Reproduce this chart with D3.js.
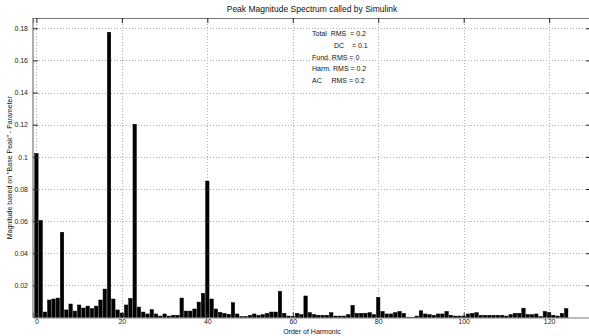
<!DOCTYPE html>
<html>
<head>
<meta charset="utf-8">
<script src="https://cdn.jsdelivr.net/npm/d3@7"></script>
<style>
  body { margin: 0; background: #fff; }
  svg { display: block; font-family: "Liberation Sans", Arial, sans-serif; }
</style>
</head>
<body>
<svg width="589" height="336"></svg>
<script>
// harmonic order 0..124, peak magnitude
const magnitudes = [
  0.102, 0.0604, 0.0034, 0.0109, 0.0115, 0.0121, 0.053, 0.0047, 0.0084, 0.004,
  0.0078, 0.0059, 0.0071, 0.0055, 0.0071, 0.0109, 0.0177, 0.1775, 0.0115, 0.0047,
  0.0028, 0.0078, 0.0119, 0.1203, 0.0065, 0.0034, 0.0022, 0.0049, 0.0022, 0.0009,
  0.0022, 0.0009, 0.0014, 0.0014, 0.0121, 0.004, 0.004, 0.0053, 0.0096, 0.015,
  0.0849, 0.0115, 0.0053, 0.0032, 0.0026, 0.002, 0.0092, 0.0022, 0.0006, 0.0006,
  0.0014, 0.0022, 0.0014, 0.0018, 0.0026, 0.0034, 0.0034, 0.0163, 0.0026, 0.0009,
  0.0006, 0.0026, 0.0018, 0.0134, 0.003, 0.0018, 0.0014, 0.0014, 0.0014, 0.003,
  0.0009, 0.0009, 0.0009, 0.0018, 0.0076, 0.0026, 0.0026, 0.0026, 0.003, 0.0018,
  0.0125, 0.0038, 0.0022, 0.0022, 0.003, 0.0038, 0.0026, 0.0002, 0.0002, 0.0009,
  0.0042, 0.0022, 0.0018, 0.0014, 0.0022, 0.0022, 0.0038, 0.0014, 0.0009, 0.0009,
  0.0009, 0.0022, 0.0026, 0.003, 0.0014, 0.0014, 0.0014, 0.0014, 0.0014, 0.0014,
  0.0009, 0.0018, 0.0026, 0.0026, 0.0058, 0.0018, 0.0018, 0.0022, 0.0006, 0.0038,
  0.003, 0.0014, 0.0009, 0.0026, 0.0055
];
const xTicks = [0, 20, 40, 60, 80, 100, 120];
const yTicks = [0.02, 0.04, 0.06, 0.08, 0.1, 0.12, 0.14, 0.16, 0.18];
const yTickLabels = ['0.02', '0.04', '0.06', '0.08', '0.1', '0.12', '0.14', '0.16', '0.18'];
const rmsLines = [
  { label: 'Total  RMS  = 0.2', indent: 0 },
  { label: 'DC    = 0.1', indent: 1 },
  { label: 'Fund. RMS = 0', indent: 0 },
  { label: 'Harm. RMS = 0.2', indent: 0 },
  { label: 'AC     RMS = 0.2', indent: 0 }
];

const svg = d3.select('svg');
const plotLeft = 33, plotRight = 591, plotTop = 18, plotBottom = 317.5;

const x = d3.scaleLinear().domain([-0.8, 129.8]).range([plotLeft, plotRight]);
const y = d3.scaleLinear().domain([0, 0.1864]).range([plotBottom, plotTop]);

// grid
const grid = svg.append('g')
  .attr('stroke', '#b0b0b0')
  .attr('stroke-width', 1)
  .attr('stroke-dasharray', '1,2');
grid.selectAll('.gx').data(xTicks).enter().append('line')
  .attr('x1', d => Math.round(x(d)) + 0.5).attr('x2', d => Math.round(x(d)) + 0.5)
  .attr('y1', plotTop).attr('y2', plotBottom);
grid.selectAll('.gy').data(yTicks).enter().append('line')
  .attr('y1', d => Math.round(y(d)) + 0.5).attr('y2', d => Math.round(y(d)) + 0.5)
  .attr('x1', plotLeft).attr('x2', plotRight);

// bars
const barW = x(0.8) - x(0);
svg.append('g').selectAll('rect')
  .data(magnitudes)
  .enter()
  .append('rect')
  .attr('x', (d, i) => x(i) - barW / 2)
  .attr('y', d => y(d))
  .attr('width', barW)
  .attr('height', d => plotBottom - y(d))
  .attr('fill', '#000')
  .attr('stroke', '#000')
  .attr('stroke-width', 0.5);

// axes with inward ticks
const tickLen = 5;
const xAxis = d3.axisBottom(x).tickValues(xTicks).tickSize(-tickLen).tickPadding(2);
const yAxis = d3.axisLeft(y).tickValues(yTicks)
  .tickFormat((d, i) => yTickLabels[i]).tickSize(-tickLen).tickPadding(5);

const gx = svg.append('g').attr('transform', `translate(0,${plotBottom})`).call(xAxis);
const gy = svg.append('g').attr('transform', `translate(${plotLeft},0)`).call(yAxis);
const gxTop = svg.append('g').attr('transform', `translate(0,${plotTop})`)
  .call(d3.axisTop(x).tickValues(xTicks).tickSize(-tickLen).tickFormat(''));
const gyRight = svg.append('g').attr('transform', `translate(${plotRight},0)`)
  .call(d3.axisRight(y).tickValues(yTicks).tickSize(-tickLen).tickFormat(''));

[gx, gy, gxTop, gyRight].forEach(g => {
  g.select('.domain').attr('stroke', '#777').attr('stroke-width', 1.2);
  g.selectAll('.tick line').attr('stroke', '#222');
  g.selectAll('.tick text').attr('fill', '#222').style('font-size', '7px');
});
gy.select('.domain').attr('d', `M0,${plotTop}V${plotBottom}`);
gyRight.select('.domain').attr('d', `M0,${plotTop}V${plotBottom}`);

// labels
svg.append('text')
  .attr('x', 312).attr('y', 12)
  .attr('text-anchor', 'middle')
  .style('font-size', '8.5px')
  .attr('fill', '#111')
  .text('Peak Magnitude Spectrum called by Simulink');

svg.append('text')
  .attr('x', 312).attr('y', 334)
  .attr('text-anchor', 'middle')
  .style('font-size', '7px')
  .attr('fill', '#111')
  .text('Order of Harmonic');

svg.append('text')
  .attr('transform', `translate(12,${(plotTop + plotBottom) / 2}) rotate(-90)`)
  .attr('text-anchor', 'middle')
  .style('font-size', '7px')
  .attr('fill', '#111')
  .text('Magnitude based on "Base Peak" - Parameter');

svg.append('g').selectAll('text')
  .data(rmsLines)
  .enter()
  .append('text')
  .attr('x', d => 312 + d.indent * 22)
  .attr('y', (d, i) => 36 + i * 11.8)
  .style('font-size', '7px')
  .style('white-space', 'pre')
  .attr('fill', '#111')
  .text(d => d.label);
</script>
</body>
</html>
